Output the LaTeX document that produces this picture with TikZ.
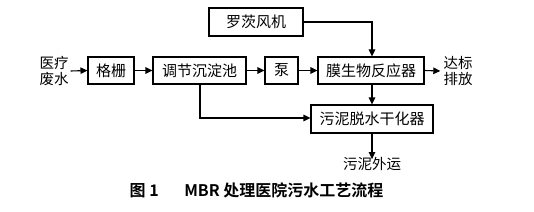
\documentclass[tikz,border=0pt]{standalone}
\usepackage{fontspec}
\setmainfont{Noto Sans CJK SC}
\newfontfamily\cjkbold{Noto Sans CJK SC Bold}
\usetikzlibrary{arrows.meta}
\begin{document}
\begin{tikzpicture}[x=1pt,y=-1pt,
  box/.style={draw,line width=1.1pt,minimum height=27pt,inner sep=0pt,font=\fontsize{15}{16}\selectfont},
  lbl/.style={font=\fontsize{14.5}{16}\selectfont,align=center,inner sep=0pt},
  flow/.style={line width=1.1pt,-{Triangle[length=7pt,width=6.5pt]}},
  ln/.style={line width=1.1pt}]
\useasboundingbox (0,0) rectangle (534,211);
\node[box,minimum width=46pt] (gs) at (111,70.5) {格栅};
\node[box,minimum width=93pt] (tj) at (199.5,70.5) {调节沉淀池};
\node[box,minimum width=33pt] (bg) at (281.5,70.5) {泵};
\node[box,minimum width=106pt] (mb) at (371,70.5) {膜生物反应器};
\node[box,minimum width=94pt,minimum height=28pt] (fj) at (256,22) {罗茨风机};
\node[box,minimum width=122pt,minimum height=28pt] (wn) at (372,119) {污泥脱水干化器};
\node[lbl] (in) at (54,71) {医疗\\废水};
\node[lbl] (out) at (458,71) {达标\\排放};
\node[lbl] (wy) at (372,164) {污泥外运};
\node[font=\cjkbold\fontsize{16}{17}\selectfont,inner sep=0pt] (cap) at (256.5,190) {图 1\hspace{1.6em}MBR 处理医院污水工艺流程};
\coordinate (c1) at (372,22);
\coordinate (c2) at (200,118);
\draw[flow] (in.east) ++(2,0) -- (gs.west);
\draw[flow] (gs) -- (tj);
\draw[flow] (tj) -- (bg);
\draw[flow] (bg) -- (mb);
\draw[flow] (mb.east) -- ([xshift=-3pt]out.west);
\draw[flow] (fj.east) -- (c1) -- (mb.north -| c1);
\draw[flow] (mb.south -| c1) -- (wn.north -| c1);
\draw[flow] (tj.south -| c2) -- (c2) -- (wn.west |- c2);
\draw[flow] (wn.south -| c1) -- ([yshift=-2pt]wy.north -| c1);
\end{tikzpicture}
\end{document}
